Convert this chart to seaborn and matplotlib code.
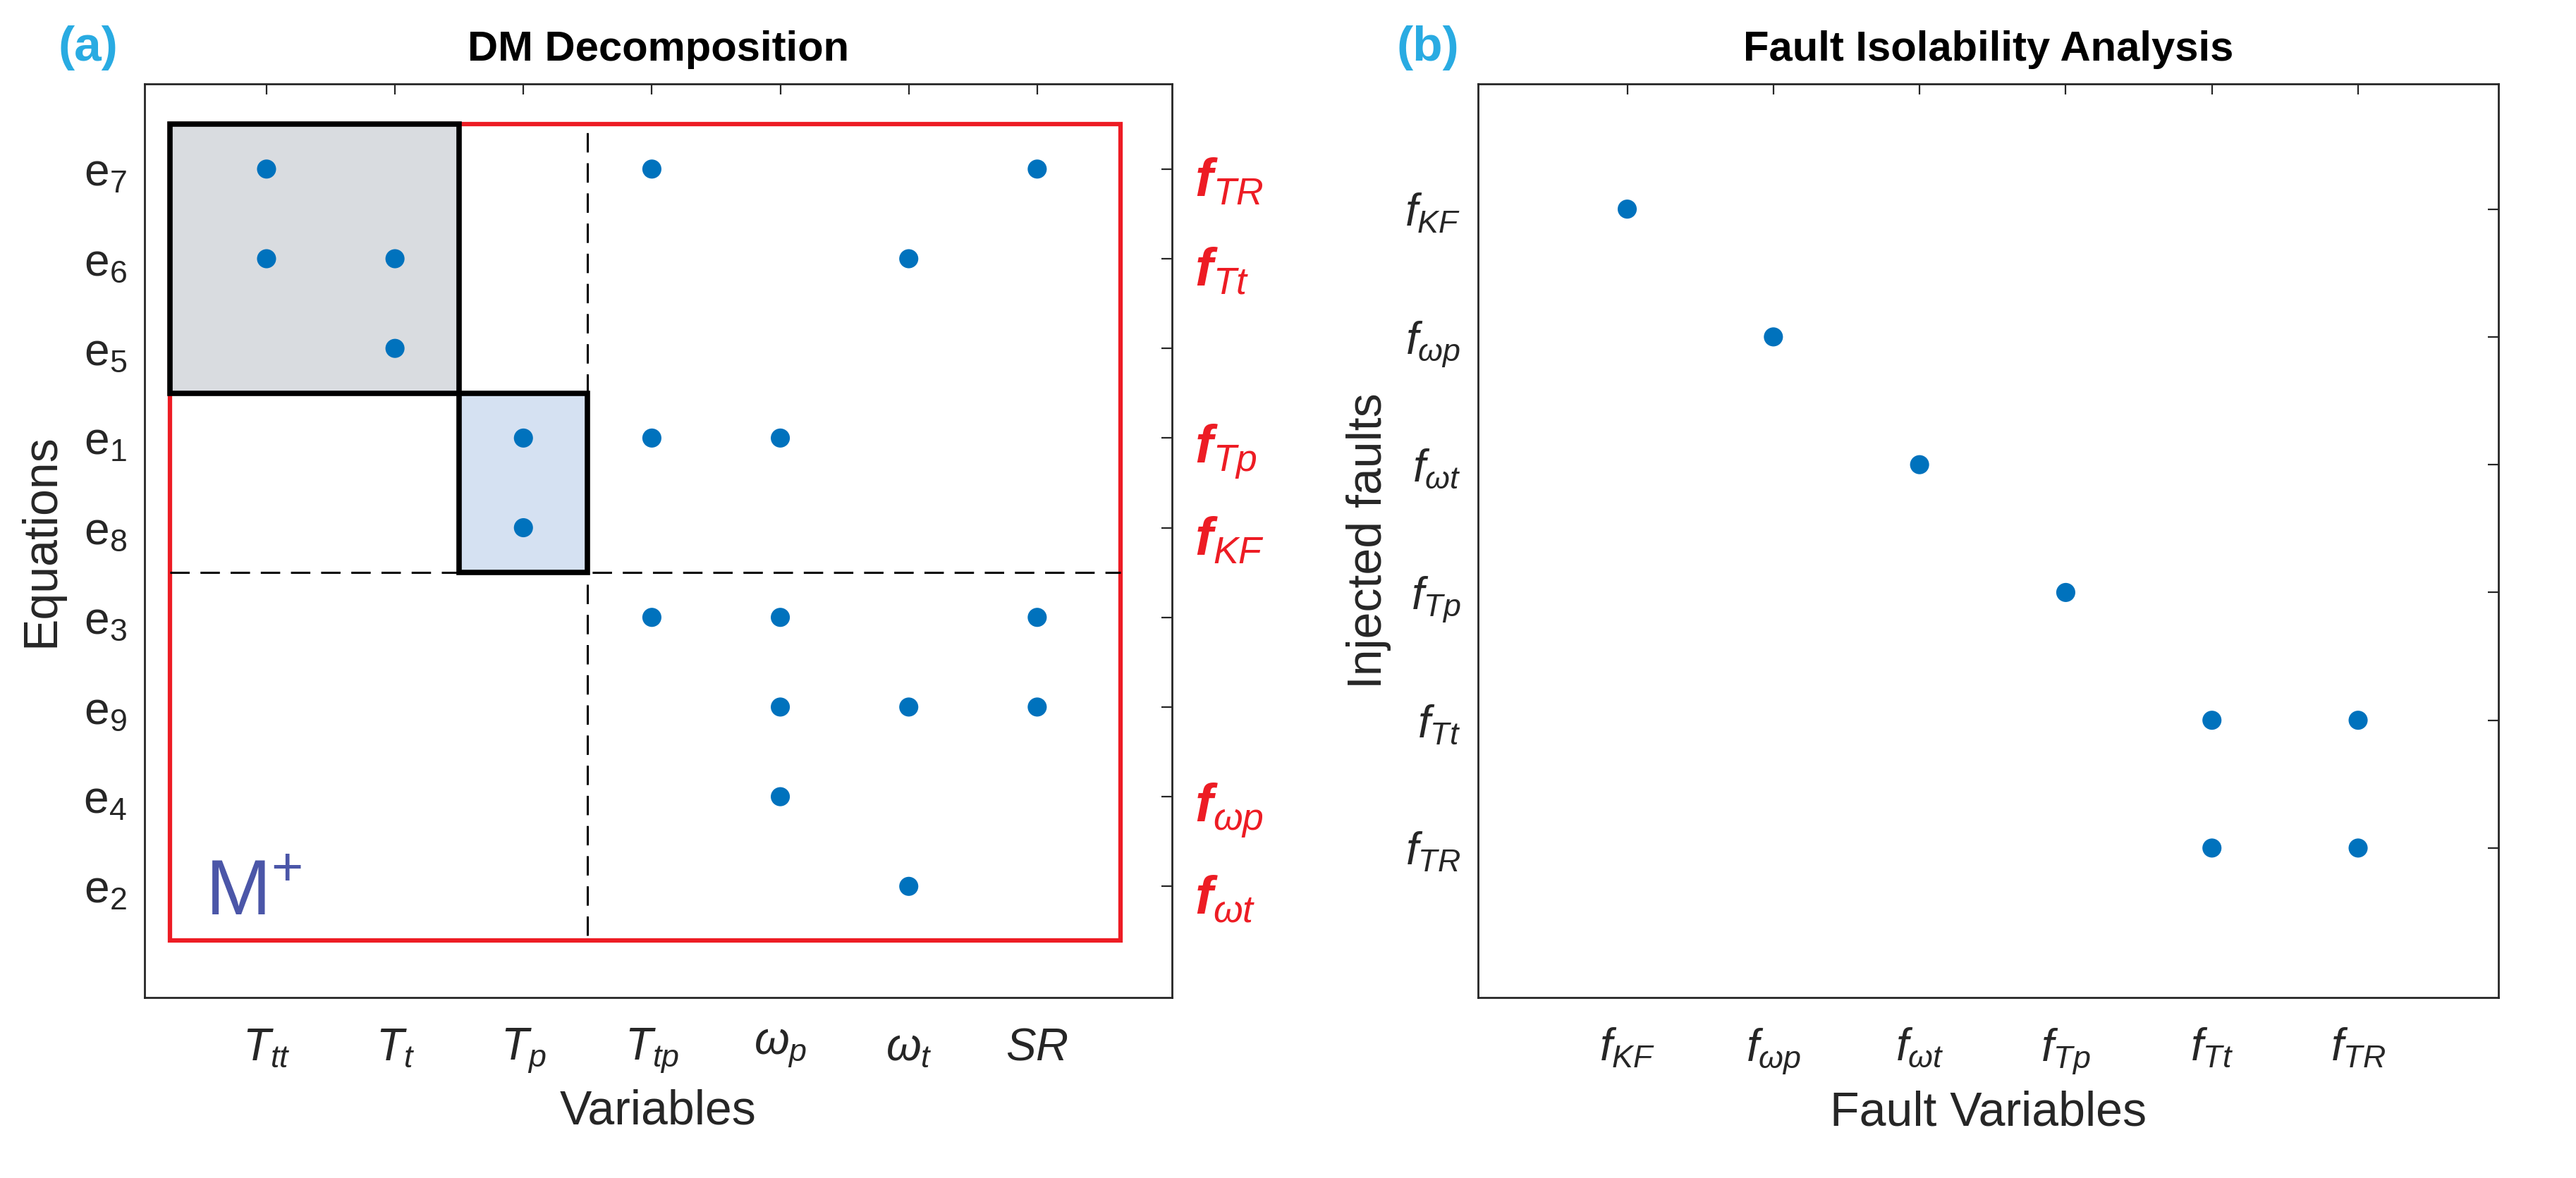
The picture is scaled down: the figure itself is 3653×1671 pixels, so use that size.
import matplotlib
matplotlib.use('Agg')
import matplotlib.pyplot as plt
from matplotlib import font_manager
from matplotlib.patches import Rectangle
import pandas as pd
import seaborn as sns

# ---- data: structural model (DM decomposition) ----
var_keys = ['Ttt', 'Tt', 'Tp', 'Ttp', 'wp', 'wt', 'SR']
var_ticks = [r'$T_{tt}$', r'$T_{t}$', r'$T_{p}$', r'$T_{tp}$',
             r'$\omega_{p}$', r'$\omega_{t}$', r'$SR$']
eq_keys = ['e7', 'e6', 'e5', 'e1', 'e8', 'e3', 'e9', 'e4', 'e2']  # top -> bottom
eq_ticks = [r'$\mathregular{e_{%s}}$' % k[1:] for k in eq_keys]

inc_eq = ['e7', 'e7', 'e7', 'e6', 'e6', 'e6', 'e5', 'e1', 'e1', 'e1',
          'e8', 'e3', 'e3', 'e3', 'e9', 'e9', 'e9', 'e4', 'e2']
inc_var = ['Ttt', 'Ttp', 'SR', 'Ttt', 'Tt', 'wt', 'Tt', 'Tp', 'Ttp', 'wp',
           'Tp', 'Ttp', 'wp', 'SR', 'wp', 'wt', 'SR', 'wp', 'wt']

# faults written next to the equations they affect
side_rows = ['e7', 'e6', 'e1', 'e8', 'e4', 'e2']
side_faults = ['TR', 'Tt', 'Tp', 'KF', r'\omega p', r'\omega t']

# ---- data: fault isolability ----
fault_keys = ['KF', 'wp', 'wt', 'Tp', 'Tt', 'TR']
fault_ticks = [r'$f_{KF}$', r'$f_{\omega p}$', r'$f_{\omega t}$',
               r'$f_{Tp}$', r'$f_{Tt}$', r'$f_{TR}$']
iso_x = ['KF', 'wp', 'wt', 'Tp', 'Tt', 'TR', 'Tt', 'TR']
iso_y = ['KF', 'wp', 'wt', 'Tp', 'Tt', 'Tt', 'TR', 'TR']

# ---- style ----
sns.set_theme(style='white')
names = {f.name for f in font_manager.fontManager.ttflist}
base = 'Liberation Sans Narrow' if 'Liberation Sans Narrow' in names else 'Liberation Sans'
plt.rcParams['font.family'] = [base, 'DejaVu Sans']
plt.rcParams['mathtext.fontset'] = 'custom'
plt.rcParams['mathtext.rm'] = base
plt.rcParams['mathtext.it'] = base + ':italic'
plt.rcParams['mathtext.bf'] = base + ':bold'
plt.rcParams['mathtext.bfit'] = 'Liberation Sans:italic:bold'

INK = '#262626'
DOT = '#0072BD'
RED = '#ED1C24'

fig = plt.figure(figsize=(36.53, 16.71), dpi=100)
ax1 = fig.add_axes([0.0561, 0.1532, 0.3989, 0.7756])
ax2 = fig.add_axes([0.5738, 0.1532, 0.3961, 0.7756])

for ax in (ax1, ax2):
    for s in ax.spines.values():
        s.set_color(INK)
        s.set_linewidth(2.0)
    ax.tick_params(direction='in', top=True, right=True, length=11, width=1.6,
                   colors=INK, labelsize=46)
    ax.tick_params(axis='x', pad=30)
    ax.tick_params(axis='y', pad=18)

# ---- panel (a) ----
df1 = pd.DataFrame({'eq': inc_eq, 'var': inc_var})
df1['x'] = pd.Categorical(df1['var'], categories=var_keys).codes + 1
df1['y'] = len(eq_keys) - pd.Categorical(df1['eq'], categories=eq_keys).codes

ax1.add_patch(Rectangle((0.25, 0.4), 7.4, 9.1, fill=False, ec=RED, lw=4.5, zorder=1))
ax1.add_patch(Rectangle((0.25, 6.5), 2.25, 3.0, fc='#D9DCE0', ec='black', lw=5.5, zorder=2))
ax1.add_patch(Rectangle((2.5, 4.5), 1.0, 2.0, fc='#D5E1F2', ec='black', lw=5.5, zorder=2))
ax1.plot([3.5, 3.5], [0.45, 6.5], color='black', lw=2.2, dashes=(9, 5), zorder=3)
ax1.plot([3.5, 3.5], [6.5, 9.5], color='black', lw=2.2, dashes=(9, 5), zorder=3)
ax1.plot([0.25, 7.65], [4.5, 4.5], color='black', lw=2.2, dashes=(9, 5), zorder=3)

sns.scatterplot(data=df1, x='x', y='y', ax=ax1, s=380, color=DOT,
                edgecolor='none', legend=False, zorder=5)

ax1.set_xlim(0.05, 8.05)
ax1.set_ylim(-0.24, 9.95)
ax1.set_xticks(range(1, len(var_keys) + 1), var_ticks)
ax1.set_yticks(range(len(eq_keys), 0, -1), eq_ticks)
ax1.set_xlabel('Variables', fontsize=49, color=INK, labelpad=14)
ax1.set_ylabel('Equations', fontsize=49, color=INK, labelpad=20)
ax1.set_title('DM Decomposition', fontsize=43, weight='bold', color='black', pad=24)

ax1.text(0.52, 0.68, r'M$^{+}$', fontsize=80, color='#4B56A8', va='baseline', ha='left')

tr = matplotlib.transforms.blended_transform_factory(ax1.transAxes, ax1.transData)
for row, f in zip(side_rows, side_faults):
    yv = len(eq_keys) - eq_keys.index(row)
    ax1.text(1.022, yv - 0.15, r'$\mathbfit{f}_{\mathit{%s}}$' % f, transform=tr,
             fontsize=55, color=RED, ha='left', va='center', clip_on=False)

# ---- panel (b) ----
df2 = pd.DataFrame({'fx': iso_x, 'fy': iso_y})
df2['x'] = pd.Categorical(df2['fx'], categories=fault_keys).codes + 1
df2['y'] = len(fault_keys) - pd.Categorical(df2['fy'], categories=fault_keys).codes

sns.scatterplot(data=df2, x='x', y='y', ax=ax2, s=380, color=DOT,
                edgecolor='none', legend=False, zorder=5)
ax2.set_xlim(-0.02, 6.96)
ax2.set_ylim(-0.17, 6.98)
ax2.set_xticks(range(1, len(fault_keys) + 1), fault_ticks)
ax2.set_yticks(range(len(fault_keys), 0, -1), fault_ticks)
ax2.set_xlabel('Fault Variables', fontsize=49, color=INK, labelpad=14)
ax2.set_ylabel('Injected faults', fontsize=49, color=INK, labelpad=14)
ax2.set_title('Fault Isolability Analysis', fontsize=43, weight='bold', color='black', pad=24)

fig.text(125 / 3653, 1 - 68 / 1671, '(a)', fontsize=50, weight='bold', color='#29ABE2',
         ha='center', va='center')
fig.text(2025 / 3653, 1 - 68 / 1671, '(b)', fontsize=50, weight='bold', color='#29ABE2',
         ha='center', va='center')

fig.savefig('out.png', dpi=100, facecolor='white')
